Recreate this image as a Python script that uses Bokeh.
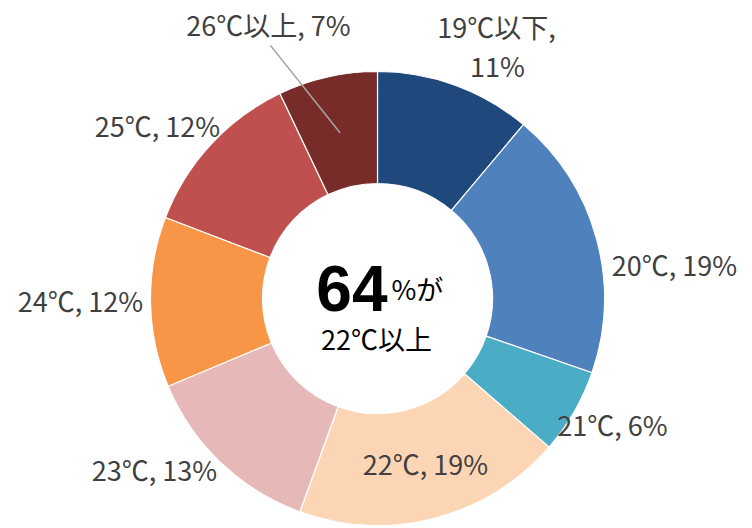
import math
from bokeh.plotting import figure
from bokeh.models import Range1d, ColumnDataSource
from bokeh.core.properties import value
from bokeh.embed import file_html
from bokeh.resources import INLINE

categories = ["19℃以下", "20℃", "21℃", "22℃", "23℃", "24℃", "25℃", "26℃以上"]
shares = [11, 19, 6, 19, 13, 12, 12, 7]
colors = ["#1F497D", "#4F81BD", "#4BACC6", "#FCD5B5", "#E6B9B8", "#F79646", "#C0504D", "#772C2A"]
center_big = "64"
center_small = "%が"
center_sub = "22℃以上"

W, H = 752, 528
# label anchor positions (layout only, measured from top); first label is split over two lines
label_pos_top = [(496, 26), (674, 264), (612, 424), (425, 463), (154, 469), (80, 300), (157, 125), (268, 24)]
label_pos = [(x, H - y) for x, y in label_pos_top]
second_line_dy = -39

cx, cy = 377, H - 298
r_out, r_in = 227, 115

total = sum(shares)
starts, ends, mids = [], [], []
cum = 0.0
for v in shares:
    a0 = cum / total
    cum += v
    a1 = cum / total
    starts.append(math.pi / 2 - 2 * math.pi * a1)
    ends.append(math.pi / 2 - 2 * math.pi * a0)
    mids.append(math.pi / 2 - 2 * math.pi * (a0 + a1) / 2)

p = figure(width=W, height=H, x_range=Range1d(0, W), y_range=Range1d(0, H),
           output_backend="svg", toolbar_location=None, min_border=0)
p.axis.visible = False
p.grid.visible = False
p.outline_line_color = None

src = ColumnDataSource(dict(x=[cx] * len(shares), y=[cy] * len(shares),
                            start=starts, end=ends, color=colors))
p.annular_wedge(x="x", y="y", inner_radius=r_in, outer_radius=r_out,
                start_angle="start", end_angle="end", direction="anticlock",
                fill_color="color", line_color="white", line_width=1.2, source=src)

font = "'Liberation Sans Narrow', 'Noto Sans CJK JP', sans-serif"
lx, ly, lt = [], [], []
for k, (c, v) in enumerate(zip(categories, shares)):
    x0, y0 = label_pos[k]
    if c == "19℃以下":
        lx += [x0, x0 + 1]
        ly += [y0, y0 + second_line_dy]
        lt += [f"{c},", f"{v}%"]
    else:
        lx.append(x0)
        ly.append(y0)
        lt.append(f"{c}, {v}%")

lsrc = ColumnDataSource(dict(x=lx, y=ly, t=lt))
p.text(x="x", y="y", text="t", source=lsrc, text_font=value(font), text_font_size="27px",
       text_color="#404040", text_align="center", text_baseline="middle")

# leader line for last slice
i = len(shares) - 1
ex = cx + 170 * math.cos(mids[i])
ey = cy + 170 * math.sin(mids[i])
p.line(x=[label_pos[i][0] + 2, ex], y=[label_pos[i][1] - 21, ey], line_color="#A6A6A6", line_width=1.5)

p.text(x=[387], y=[H - 288], text=[center_big], text_font=value("'Liberation Sans', sans-serif"),
       text_font_style="bold", text_font_size="64px", text_color="black",
       text_align="right", text_baseline="alphabetic")
p.text(x=[391], y=[H - 288], text=[center_small], text_font=value(font),
       text_font_size="27px", text_color="black", text_align="left", text_baseline="alphabetic")
p.text(x=[376], y=[H - 338], text=[center_sub], text_font=value(font),
       text_font_size="27px", text_color="black", text_align="center", text_baseline="middle")

open("out.html", "w").write(file_html(p, INLINE))
